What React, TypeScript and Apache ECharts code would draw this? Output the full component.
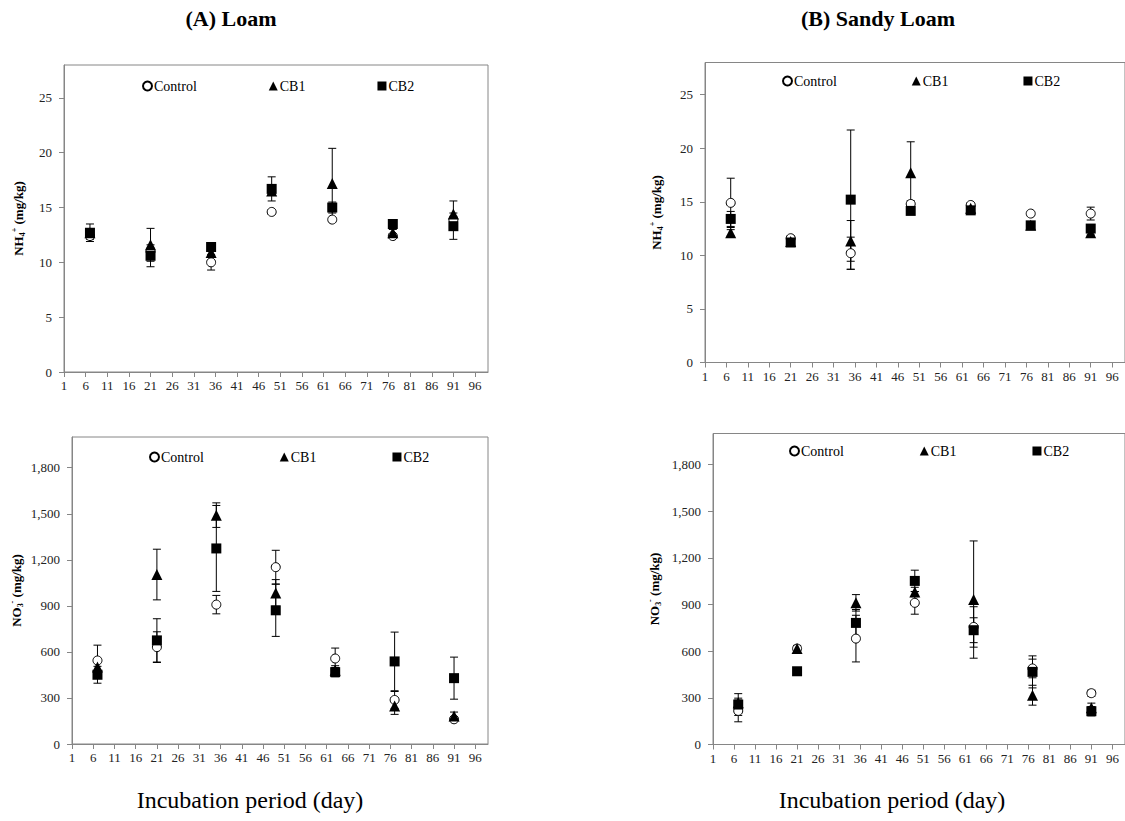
import React, { useEffect, useRef } from "react";
import * as echarts from "echarts";

// ---------- data ----------
const days = [7, 21, 35, 49, 63, 77, 91];
const xTickValues = [1, 6, 11, 16, 21, 26, 31, 36, 41, 46, 51, 56, 61, 66, 71, 76, 81, 86, 91, 96];
const nh4TickValues = [0, 5, 10, 15, 20, 25];
const no3TickValues = [0, 300, 600, 900, 1200, 1500, 1800];
const seriesNames = ["Control", "CB1", "CB2"];

// (A) Loam, NH4+
const loamNH4Control = [12.4, 11.0, 10.0, 14.6, 13.9, 12.4, 13.9];
const loamNH4ControlErr = [0.3, 0.3, 0.7, 0.2, 0.2, 0.2, 0.3];
const loamNH4CB1 = [12.7, 11.6, 10.9, 16.5, 17.2, 12.7, 14.4];
const loamNH4CB1Err = [0.3, 1.5, 0.3, 0.3, 3.2, 0.3, 1.2];
const loamNH4CB2 = [12.7, 10.6, 11.4, 16.7, 15.0, 13.5, 13.3];
const loamNH4CB2Err = [0.8, 1.0, 0.3, 1.1, 0.5, 0.3, 1.2];

// (B) Sandy Loam, NH4+
const sandyNH4Control = [14.9, 11.6, 10.2, 14.8, 14.7, 13.9, 13.9];
const sandyNH4ControlErr = [2.3, 0.2, 1.5, 0.3, 0.2, 0.2, 0.6];
const sandyNH4CB1 = [12.1, 11.3, 11.35, 17.7, 14.4, 12.8, 12.1];
const sandyNH4CB1Err = [0.3, 0.2, 1.9, 2.9, 0.2, 0.2, 0.2];
const sandyNH4CB2 = [13.4, 11.2, 15.2, 14.15, 14.2, 12.8, 12.5];
const sandyNH4CB2Err = [0.7, 0.2, 6.5, 0.3, 0.2, 0.2, 0.2];

// (A) Loam, NO3-
const loamNO3Control = [544, 631, 908, 1152, 557, 287, 161];
const loamNO3ControlErr = [100, 100, 60, 110, 68, 55, 15];
const loamNO3CB1 = [501, 1104, 1491, 984, 480, 248, 183];
const loamNO3CB1Err = [40, 165, 80, 87, 30, 55, 25];
const loamNO3CB2 = [451, 675, 1274, 871, 468, 538, 429];
const loamNO3CB2Err = [55, 141, 280, 170, 30, 191, 137];

// (B) Sandy Loam, NO3-
const sandyNO3Control = [216, 617, 681, 911, 756, 489, 330];
const sandyNO3ControlErr = [70, 20, 150, 73, 130, 60, 20];
const sandyNO3CB1 = [268, 617, 911, 981, 932, 317, 236];
const sandyNO3CB1Err = [30, 20, 53, 30, 377, 64, 30];
const sandyNO3CB2 = [257, 471, 782, 1052, 735, 467, 214];
const sandyNO3CB2Err = [70, 15, 86, 69, 80, 103, 30];

// ---------- styling ----------
const FONT = "'Liberation Serif', 'Times New Roman', serif";
const AXIS_GRAY = "#868686";

const markerStyles = [
  { symbol: "circle", symbolSize: 9, itemStyle: { color: "#ffffff", borderColor: "#000", borderWidth: 1, opacity: 1 } },
  { symbol: "triangle", symbolSize: 11, itemStyle: { color: "#000", borderWidth: 0, opacity: 1 } },
  { symbol: "rect", symbolSize: 10, itemStyle: { color: "#000", borderWidth: 0, opacity: 1 } },
];

const nh4Name = "{t|NH}{sub|4}{sup|+}{t| (mg/kg)}";
const no3Name = "{t|NO}{sub|3}{sup|-}{t| (mg/kg)}";

const panels = [
  {
    grid: { left: 64, top: 65, width: 424, height: 307 },
    yMax: 28, ticks: nh4TickValues, name: nh4Name, nameGap: 38, comma: false,
    legend: { left: 142, top: 79, itemGap: 72 },
    values: [loamNH4Control, loamNH4CB1, loamNH4CB2],
    errors: [loamNH4ControlErr, loamNH4CB1Err, loamNH4CB2Err],
  },
  {
    grid: { left: 705, top: 62.5, width: 424, height: 300 },
    yMax: 28, ticks: nh4TickValues, name: nh4Name, nameGap: 41, comma: false,
    legend: { left: 782, top: 74, itemGap: 75 },
    values: [sandyNH4Control, sandyNH4CB1, sandyNH4CB2],
    errors: [sandyNH4ControlErr, sandyNH4CB1Err, sandyNH4CB2Err],
  },
  {
    grid: { left: 72, top: 437, width: 416, height: 307 },
    yMax: 2000, ticks: no3TickValues, name: no3Name, nameGap: 48, comma: true,
    legend: { left: 149, top: 450, itemGap: 76 },
    values: [loamNO3Control, loamNO3CB1, loamNO3CB2],
    errors: [loamNO3ControlErr, loamNO3CB1Err, loamNO3CB2Err],
  },
  {
    grid: { left: 713, top: 433.5, width: 416, height: 311 },
    yMax: 2000, ticks: no3TickValues, name: no3Name, nameGap: 51, comma: true,
    legend: { left: 789, top: 444, itemGap: 76 },
    values: [sandyNO3Control, sandyNO3CB1, sandyNO3CB2],
    errors: [sandyNO3ControlErr, sandyNO3CB1Err, sandyNO3CB2Err],
  },
];

const withComma = (v: number) => String(v).replace(/\B(?=(\d{3})+(?!\d))/g, ",");

function errorBarRender(params: any, api: any) {
  const x = api.value(0);
  const y = api.value(1);
  const e = api.value(2);
  const top = api.coord([x, y + e]);
  const bot = api.coord([x, y - e]);
  const cw = 4;
  const style = { stroke: "#000", lineWidth: 1 };
  return {
    type: "group",
    children: [
      { type: "line", shape: { x1: top[0], y1: top[1], x2: bot[0], y2: bot[1] }, style },
      { type: "line", shape: { x1: top[0] - cw, y1: top[1], x2: top[0] + cw, y2: top[1] }, style },
      { type: "line", shape: { x1: bot[0] - cw, y1: bot[1], x2: bot[0] + cw, y2: bot[1] }, style },
    ],
  };
}

function buildOption() {
  const grid: any[] = [];
  const xAxis: any[] = [];
  const yAxis: any[] = [];
  const legend: any[] = [];
  const series: any[] = [];

  panels.forEach((p, gi) => {
    grid.push({ ...p.grid, show: true, borderColor: AXIS_GRAY, borderWidth: 1, backgroundColor: "transparent" });
    xAxis.push({
      type: "value", gridIndex: gi, min: 1, max: 99, interval: 5,
      axisLine: { show: true, lineStyle: { color: AXIS_GRAY, width: 1 } },
      axisTick: { show: true, length: 5, lineStyle: { color: AXIS_GRAY }, customValues: xTickValues },
      axisLabel: { customValues: xTickValues, fontFamily: FONT, fontSize: 13, color: "#222", margin: 7 },
      splitLine: { show: false },
    });
    yAxis.push({
      type: "value", gridIndex: gi, min: 0, max: p.yMax,
      name: p.name, nameLocation: "middle", nameRotate: 90, nameGap: p.nameGap,
      nameTextStyle: {
        rich: {
          t: { fontFamily: FONT, fontSize: 13, fontWeight: "bold", color: "#000", lineHeight: 16 },
          sub: { fontFamily: FONT, fontSize: 8, fontWeight: "bold", color: "#000", verticalAlign: "bottom", lineHeight: 16 },
          sup: { fontFamily: FONT, fontSize: 8, fontWeight: "bold", color: "#000", verticalAlign: "top", lineHeight: 12 },
        },
      },
      axisLine: { show: true, lineStyle: { color: AXIS_GRAY, width: 1 } },
      axisTick: { show: true, length: 5, lineStyle: { color: AXIS_GRAY }, customValues: p.ticks },
      axisLabel: {
        customValues: p.ticks, fontFamily: FONT, fontSize: 13, color: "#222", margin: 12,
        formatter: (v: number) => (p.comma ? withComma(v) : String(v)),
      },
      splitLine: { show: false },
    });
    legend.push({
      data: seriesNames, orient: "horizontal", left: p.legend.left, top: p.legend.top,
      itemGap: p.legend.itemGap, itemWidth: 9, itemHeight: 9, padding: 0,
      textStyle: { fontFamily: FONT, fontSize: 14, color: "#000", padding: [0, 0, 0, -3] },
      selectedMode: false,
    });
    seriesNames.forEach((name, si) => {
      series.push({
        name: name + " error", type: "custom", xAxisIndex: gi, yAxisIndex: gi,
        renderItem: errorBarRender,
        data: days.map((d, i) => [d, p.values[si][i], p.errors[si][i]]),
        z: 2, silent: true,
      });
    });
    seriesNames.forEach((name, si) => {
      series.push({
        name, type: "scatter", xAxisIndex: gi, yAxisIndex: gi,
        ...markerStyles[si],
        data: days.map((d, i) => [d, p.values[si][i]]),
        z: 3 + si,
      });
    });
  });

  return {
    animation: false,
    backgroundColor: "#ffffff",
    grid, xAxis, yAxis, legend, series,
    graphic: [
      { type: "text", x: 231, y: 18, style: { text: "(A) Loam", font: `bold 22px ${FONT}`, fill: "#000", align: "center", verticalAlign: "middle" } },
      { type: "text", x: 878, y: 18, style: { text: "(B) Sandy Loam", font: `bold 22px ${FONT}`, fill: "#000", align: "center", verticalAlign: "middle" } },
      { type: "text", x: 250, y: 800, style: { text: "Incubation period (day)", font: `24px ${FONT}`, fill: "#000", align: "center", verticalAlign: "middle" } },
      { type: "text", x: 892, y: 800, style: { text: "Incubation period (day)", font: `24px ${FONT}`, fill: "#000", align: "center", verticalAlign: "middle" } },
    ],
  };
}

export default function App() {
  const ref = useRef<HTMLDivElement>(null);
  useEffect(() => {
    if (!ref.current) return;
    const chart = echarts.init(ref.current, undefined, { renderer: "svg" });
    chart.setOption(buildOption() as any);
    return () => chart.dispose();
  }, []);
  return (
    <div
      ref={ref}
      style={{ position: "fixed", left: 0, top: 0, width: 1125, height: 821, background: "#fff" }}
    />
  );
}
